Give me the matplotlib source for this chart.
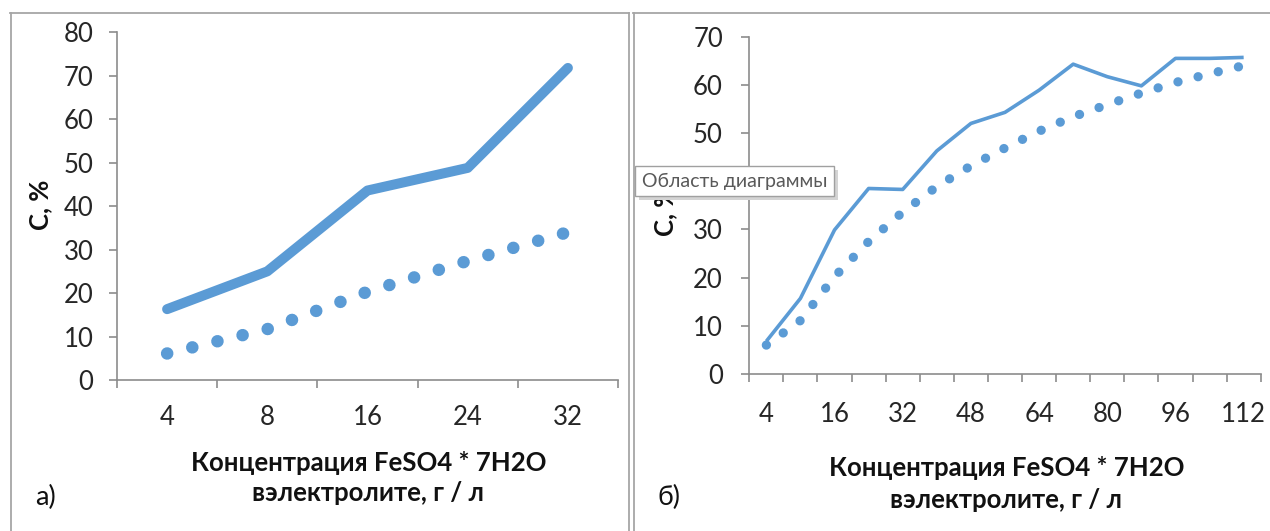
import numpy as np
import matplotlib.pyplot as plt
from matplotlib.lines import Line2D
from matplotlib.patches import Rectangle

# Panel a: FeSO4*7H2O concentration (g/l) vs C, %
conc_a = ["4", "8", "16", "24", "32"]
c_solid_a = [16.3, 25.0, 43.6, 48.8, 71.8]
c_dotted_a = [6.1, 11.7, 20.3, 27.4, 34.0]

# Panel b: wider concentration range
conc_b = ["4", "8", "16", "24", "32", "40", "48", "56", "64", "72",
          "80", "88", "96", "104", "112"]
c_solid_b = [6.8, 15.7, 29.9, 38.5, 38.3, 46.3, 52.0, 54.3, 58.9, 64.3,
             61.7, 59.8, 65.5, 65.5, 65.7]
c_dotted_b = [6.0, 11.1, 20.2, 27.5, 33.6, 38.9, 43.2, 46.9, 50.4, 53.4,
              55.9, 58.3, 60.5, 62.3, 64.0]

BLUE = "#5b9bd5"
AXIS_GREY = "#8c8c8c"
FONT = ["Lato", "Open Sans", "DejaVu Sans"]
W, H = 1270, 531

plt.rcParams["font.family"] = FONT

fig = plt.figure(figsize=(W / 100, H / 100), dpi=100)


def px(x, y):
    """pixel position (from top-left) -> figure fraction"""
    return x / W, 1 - y / H


def panel(rect, cats, solid, dotted, ymax, label_every, solid_lw, solid_cap,
          dot_lw, dot_gap, ytick_pad, xtick_pad):
    ax = fig.add_axes(rect)
    n = len(cats)
    x = np.arange(n)
    ax.plot(x, solid, color=BLUE, lw=solid_lw, solid_capstyle=solid_cap,
            solid_joinstyle="round", clip_on=False, zorder=3)
    ax.plot(x, dotted, color=BLUE, lw=dot_lw, linestyle=(0, (0.01, dot_gap)),
            dash_capstyle="round", clip_on=False, zorder=3)

    ax.set_xlim(-0.5, n - 0.5)
    ax.set_ylim(0, ymax)
    ax.set_yticks(np.arange(0, ymax + 1, 10))

    # category axis: tick marks between categories, labels at the centres
    ax.set_xticks(np.arange(n + 1) - 0.5)
    ax.set_xticklabels([])
    ax.set_xticks(x, minor=True)
    ax.set_xticklabels([c if i % label_every == 0 else "" for i, c in enumerate(cats)],
                       minor=True)

    for s in ("top", "right"):
        ax.spines[s].set_visible(False)
    for s in ("left", "bottom"):
        ax.spines[s].set_color(AXIS_GREY)
        ax.spines[s].set_linewidth(1.2)
    ax.tick_params(which="major", direction="out", length=6, width=1.2,
                   color=AXIS_GREY, labelsize=18.5, labelcolor="#262626")
    ax.tick_params(axis="y", pad=ytick_pad)
    ax.tick_params(axis="x", which="minor", length=0, pad=xtick_pad,
                   labelsize=18.5, labelcolor="#262626")
    ax.set_facecolor("none")
    return ax


panel([117 / W, 1 - 380 / H, 501 / W, 347.7 / H],
      conc_a, c_solid_a, c_dotted_a, 80, 1,
      solid_lw=7.2, solid_cap="round", dot_lw=9.0, dot_gap=2.06,
      ytick_pad=11, xtick_pad=18)

panel([749.3 / W, 1 - 374 / H, 511.4 / W, 337.3 / H],
      conc_b, c_solid_b, c_dotted_b, 70, 2,
      solid_lw=2.6, solid_cap="butt", dot_lw=6.7, dot_gap=2.22,
      ytick_pad=13, xtick_pad=20)

# axis titles
title_kw = dict(ha="center", va="center", fontsize=18.5, fontweight="bold",
                color="#111111")
fig.text(*px(369, 463), "Концентрация FeSO4 * 7H2O", **title_kw)
fig.text(*px(368, 493), "вэлектролите, г / л", **title_kw)
fig.text(*px(1007, 468), "Концентрация FeSO4 * 7H2O", **title_kw)
fig.text(*px(1006, 500), "вэлектролите, г / л", **title_kw)

fig.text(*px(40, 205), "С, %", rotation=90, **title_kw)
fig.text(*px(665, 211), "С, %", rotation=90, **title_kw)

# panel letters
fig.text(*px(45, 497), "а)", ha="center", va="center", fontsize=19.5, color="#111111")
fig.text(*px(669, 497), "б)", ha="center", va="center", fontsize=19.5, color="#111111")

# panel frames
frame_kw = dict(transform=fig.transFigure, color="#a6a6a6", lw=1.3)
for xs, ys in [((10.5, 10.5), (13, 540)), ((10, 629), (13, 13)),
               ((628.5, 628.5), (13, 540)), ((633.5, 633.5), (13, 540)),
               ((633, 1280), (13, 13))]:
    fig.add_artist(Line2D([v / W for v in xs], [1 - v / H for v in ys], **frame_kw))

# hover tip over the second chart
x0, y0, x1, y1 = 635, 166, 834, 196
fig.add_artist(Rectangle(px(x0 + 4, y1 + 4), (x1 - x0) / W, (y1 - y0) / H,
                         transform=fig.transFigure, facecolor="#d4d4d4",
                         edgecolor="none", zorder=9))
fig.add_artist(Rectangle(px(x0, y1), (x1 - x0) / W, (y1 - y0) / H,
                         transform=fig.transFigure, facecolor="white",
                         edgecolor="#a0a0a0", lw=1.0, zorder=10))
fig.text(*px(642, 181), "Область диаграммы", ha="left", va="center",
         fontsize=14, color="#595959", zorder=11)

fig.savefig("out.png", dpi=100)
